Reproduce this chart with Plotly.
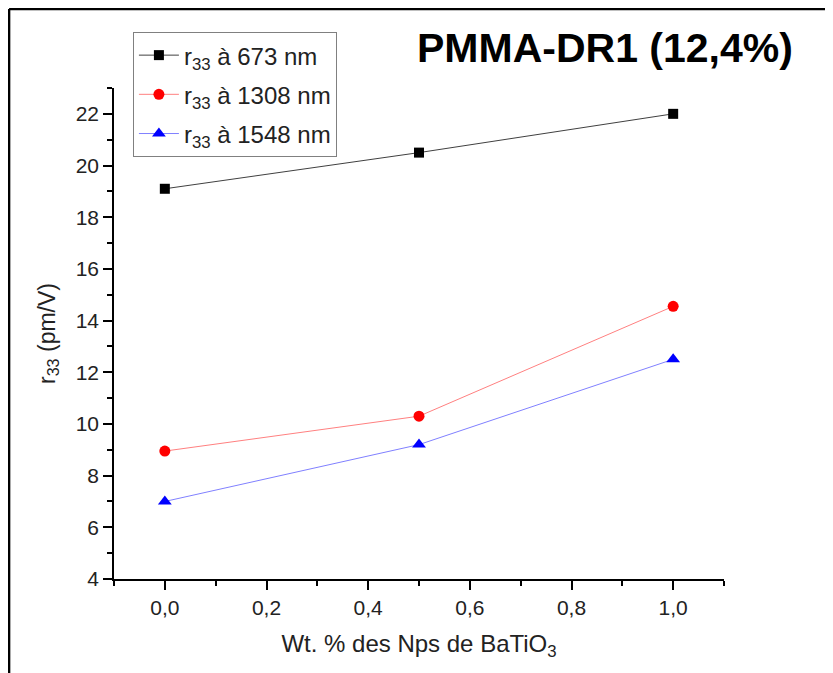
import plotly.graph_objects as go

x_vals = [0.0, 0.5, 1.0]
r673 = [19.1, 20.5, 22.0]
r1308 = [8.95, 10.3, 14.55]
r1548 = [7.0, 9.2, 12.5]
names = ["r<sub>33</sub> à 673 nm", "r<sub>33</sub> à 1308 nm", "r<sub>33</sub> à 1548 nm"]
x_ticks = [0.0, 0.2, 0.4, 0.6, 0.8, 1.0]
x_ticklabels = ["0,0", "0,2", "0,4", "0,6", "0,8", "1,0"]
y_ticks = [4, 6, 8, 10, 12, 14, 16, 18, 20, 22]

FONT = "Liberation Sans, Arial, sans-serif"

fig = go.Figure()
fig.add_trace(go.Scatter(x=x_vals, y=r673, name=names[0], mode="lines+markers", legendgroup="a",
                         line=dict(color="#404040", width=1),
                         marker=dict(symbol="square", color="black", size=10)))
fig.add_trace(go.Scatter(x=x_vals, y=r1308, name=names[1], mode="lines+markers", legendgroup="b",
                         line=dict(color="#ff8080", width=1),
                         marker=dict(symbol="circle", color="red", size=11)))
fig.add_trace(go.Scatter(x=x_vals, y=r1548, name=names[2], mode="lines+markers", legendgroup="c",
                         line=dict(color="#8080ff", width=1),
                         marker=dict(symbol="triangle-up", color="blue", size=12)))

axis_common = dict(showgrid=False, zeroline=False, showline=True, linecolor="black",
                   linewidth=1.5, ticks="outside", ticklen=9, tickwidth=1.5, tickcolor="black",
                   tickfont=dict(family=FONT, size=21, color="#222"),
                   minor=dict(ticks="outside", ticklen=5, tickwidth=1.5, tickcolor="black"))

fig.update_xaxes(range=[-0.1, 1.1], tickvals=x_ticks, ticktext=x_ticklabels,
                 title=dict(text="Wt. % des Nps de BaTiO<sub>3</sub>",
                            font=dict(family=FONT, size=24, color="#222"), standoff=17),
                 **axis_common)
fig.update_xaxes(minor=dict(dtick=0.1, tick0=0))
fig.update_yaxes(range=[4, 23], tickvals=y_ticks,
                 title=dict(text="r<sub>33</sub> (pm/V)",
                            font=dict(family=FONT, size=23, color="#222"), standoff=14),
                 **axis_common)
fig.update_yaxes(minor=dict(dtick=1, tick0=0))

fig.update_layout(
    width=833, height=673,
    margin=dict(l=106, r=117, t=80, b=102),
    plot_bgcolor="white", paper_bgcolor="white",
    showlegend=True,
    legend=dict(x=0.031, y=1.114, xanchor="left", yanchor="top",
                bordercolor="#808080", borderwidth=1, bgcolor="white",
                font=dict(family=FONT, size=24, color="#222"),
                traceorder="grouped", tracegroupgap=5, itemwidth=40),
    annotations=[dict(text="<b>PMMA-DR1 (12,4%)</b>", xref="paper", yref="paper",
                      x=0.805, y=1.081, xanchor="center", yanchor="middle", showarrow=False,
                      font=dict(family=FONT, size=41, color="black"))],
    shapes=[
        dict(type="line", xref="paper", yref="paper", x0=-0.172, x1=1.25, y0=1.161, y1=1.161,
             line=dict(color="black", width=2.5)),
        dict(type="line", xref="paper", yref="paper", x0=-0.172, x1=-0.172, y0=1.161, y1=-0.3,
             line=dict(color="black", width=2.5)),
    ],
)

fig.write_html("out.html")
